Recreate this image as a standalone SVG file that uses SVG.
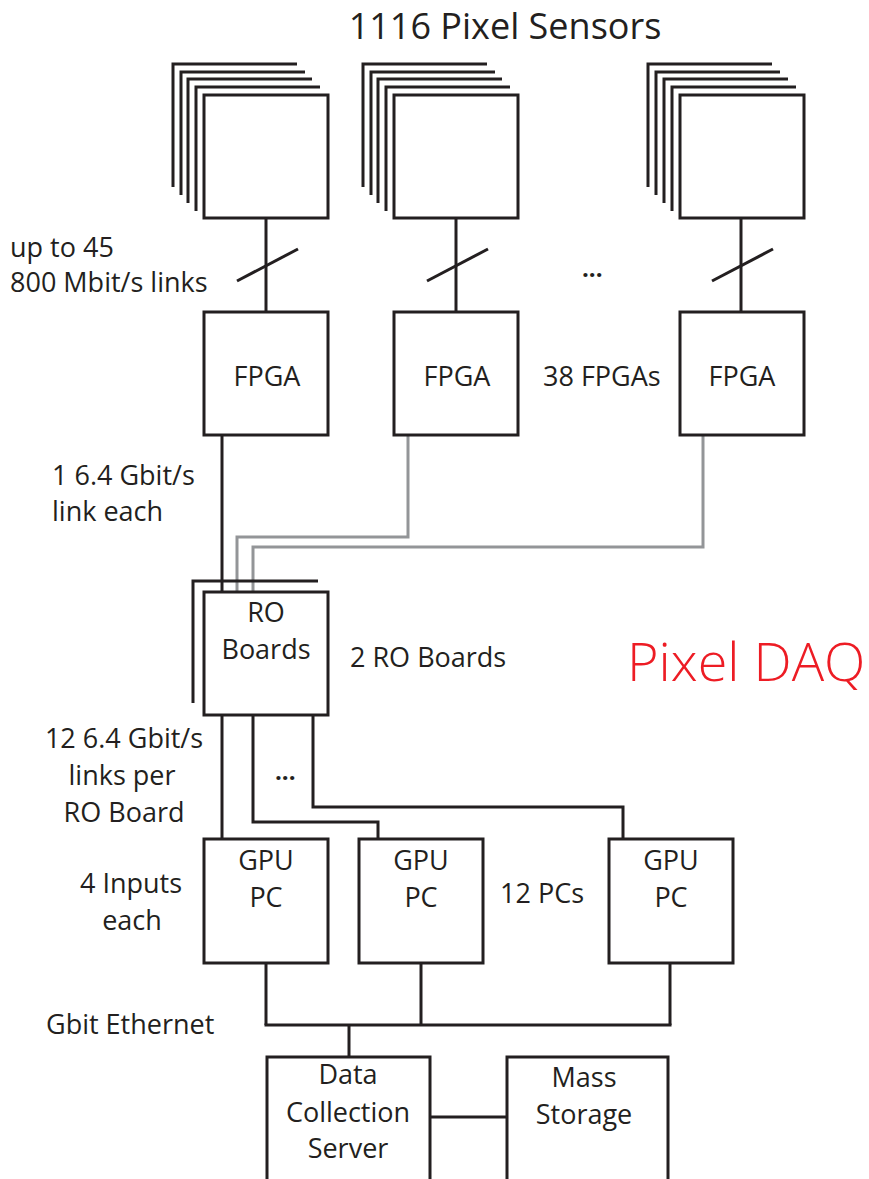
<svg xmlns="http://www.w3.org/2000/svg" width="869" height="1179" viewBox="0 0 869 1179">
<style>
.box{fill:#fff;stroke:#231f20;stroke-width:3}
.ln{fill:none;stroke:#231f20;stroke-width:3}
.gr{fill:none;stroke:#939598;stroke-width:3}
text{font-family:"Open Sans","Noto Sans","Liberation Sans",sans-serif;font-size:27px;fill:#231f20}
.m{text-anchor:middle}
.title{font-size:36px}
.daq{font-size:54px;fill:#ed1c24;font-weight:300}
.dots{font-size:24px;font-weight:bold}
</style>
<rect width="869" height="1179" fill="#fff"/>
<text class="title m" x="505" y="39">1116 Pixel Sensors</text>
<g id="sensors1">
<polyline class="ln" points="173,187 173,64 297,64"/>
<polyline class="ln" points="181,195 181,72 305,72"/>
<polyline class="ln" points="188,203 188,79 312,79"/>
<polyline class="ln" points="196,211 196,87 320,87"/>
<rect class="box" x="204" y="95" width="124" height="123"/>
</g>
<g id="sensors2">
<polyline class="ln" points="363,187 363,64 487,64"/>
<polyline class="ln" points="371,195 371,72 495,72"/>
<polyline class="ln" points="378,203 378,79 502,79"/>
<polyline class="ln" points="386,211 386,87 510,87"/>
<rect class="box" x="394" y="95" width="124" height="123"/>
</g>
<g id="sensors3">
<polyline class="ln" points="648,187 648,64 772,64"/>
<polyline class="ln" points="656,195 656,72 780,72"/>
<polyline class="ln" points="664,203 664,79 788,79"/>
<polyline class="ln" points="672,211 672,87 796,87"/>
<rect class="box" x="680" y="95" width="124" height="123"/>
</g>
<g id="connectors">
<line class="ln" x1="266" y1="218" x2="266" y2="312"/>
<line class="ln" x1="456" y1="218" x2="456" y2="312"/>
<line class="ln" x1="741" y1="218" x2="741" y2="312"/>
<line class="ln" x1="237" y1="281" x2="298" y2="249"/>
<line class="ln" x1="427" y1="281" x2="488" y2="249"/>
<line class="ln" x1="712" y1="281" x2="773" y2="249"/>
<line class="ln" x1="222" y1="435" x2="222" y2="592"/>
<polyline class="gr" points="408,435 408,537 237,537 237,592"/>
<polyline class="gr" points="703,435 703,547 253,547 253,592"/>
<polyline class="ln" points="193,703 193,581 318,581"/>
<line class="ln" x1="222" y1="715" x2="222" y2="839"/>
<polyline class="ln" points="253,715 253,822 378,822 378,839"/>
<polyline class="ln" points="313,715 313,807 623,807 623,839"/>
<line class="ln" x1="266" y1="963" x2="266" y2="1025"/>
<line class="ln" x1="421" y1="963" x2="421" y2="1025"/>
<line class="ln" x1="670" y1="963" x2="670" y2="1025"/>
<line class="ln" x1="264.5" y1="1025" x2="671.5" y2="1025"/>
<line class="ln" x1="349" y1="1025" x2="349" y2="1057"/>
<line class="ln" x1="430" y1="1117" x2="507" y2="1117"/>
</g>
<text class="dots" x="582" y="277">...</text>
<text class="dots" x="275" y="780">...</text>
<text x="10" y="257">up to 45</text>
<text x="10" y="292">800 Mbit/s links</text>
<g id="fpga1"><rect class="box" x="204" y="312" width="124" height="123"/><text class="m" x="267" y="386">FPGA</text></g>
<g id="fpga2"><rect class="box" x="394" y="312" width="124" height="123"/><text class="m" x="457" y="386">FPGA</text></g>
<g id="fpga3"><rect class="box" x="680" y="312" width="124" height="123"/><text class="m" x="742" y="386">FPGA</text></g>
<text x="543" y="386">38 FPGAs</text>
<text x="52" y="485">1 6.4 Gbit/s</text>
<text x="52" y="521">link each</text>
<g id="ro"><rect class="box" x="204" y="592" width="124" height="123"/><text class="m" x="266" y="622">RO</text><text class="m" x="266" y="659">Boards</text></g>
<text x="350" y="667">2 RO Boards</text>
<text class="daq" x="627" y="681">Pixel DAQ</text>
<text class="m" x="124" y="748">12 6.4 Gbit/s</text>
<text class="m" x="122" y="785">links per</text>
<text class="m" x="124" y="822">RO Board</text>
<text class="m" x="131" y="893">4 Inputs</text>
<text class="m" x="132" y="930">each</text>
<g id="gpu1"><rect class="box" x="204" y="839" width="124" height="124"/><text class="m" x="266" y="870">GPU</text><text class="m" x="266" y="907">PC</text></g>
<g id="gpu2"><rect class="box" x="359" y="839" width="124" height="124"/><text class="m" x="421" y="870">GPU</text><text class="m" x="421" y="907">PC</text></g>
<g id="gpu3"><rect class="box" x="609" y="839" width="124" height="124"/><text class="m" x="671" y="870">GPU</text><text class="m" x="671" y="907">PC</text></g>
<text x="500" y="903">12 PCs</text>
<text x="46" y="1034">Gbit Ethernet</text>
<g id="dcs"><rect class="box" x="267" y="1057" width="163" height="140"/><text class="m" x="348" y="1084">Data</text><text class="m" x="348" y="1122">Collection</text><text class="m" x="348" y="1158">Server</text></g>
<g id="mass"><rect class="box" x="507" y="1057" width="161" height="140"/><text class="m" x="584" y="1087">Mass</text><text class="m" x="584" y="1124">Storage</text></g>
</svg>
